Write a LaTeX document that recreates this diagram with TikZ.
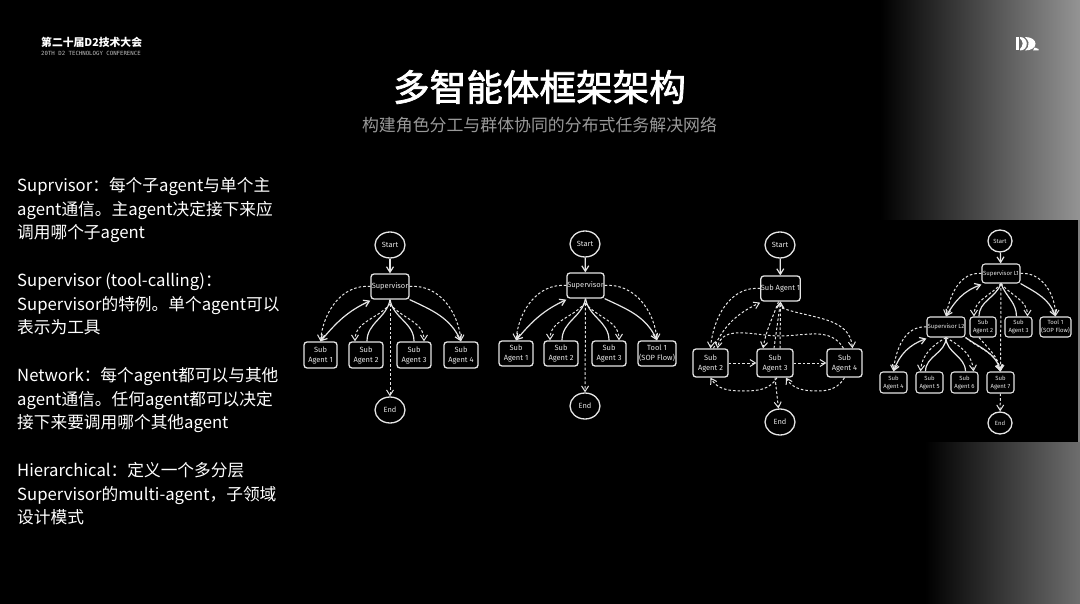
\documentclass[tikz,border=0pt]{standalone}
\usepackage{fontspec}
\usetikzlibrary{arrows.meta,shapes.geometric}
\setmainfont{Noto Sans CJK SC}
\newfontfamily\sketchfont{Fira Sans}
\newfontfamily\monofont{DejaVu Sans Mono}
\newfontfamily\titlefont[FakeBold=2]{Noto Sans CJK SC}
\definecolor{ink}{gray}{0.9}
\definecolor{subtitlegray}{gray}{0.6}
\tikzset{
  x=1pt,y=-1pt,
  agentbox/.style={draw=ink,line width=1.3pt,rounded corners=3pt,fill=black,text=ink,align=center,inner sep=0pt,font=\sketchfont\fontsize{7.5}{10}\selectfont},
  smallbox/.style={agentbox,line width=1.1pt,font=\sketchfont\fontsize{6}{8}\selectfont},
  term/.style={draw=ink,line width=1.3pt,ellipse,fill=black,text=ink,inner sep=0pt,font=\sketchfont\fontsize{7.5}{10}\selectfont},
  smallterm/.style={term,font=\sketchfont\fontsize{6}{8}\selectfont},
  solidflow/.style={draw=ink,line width=1.2pt,-{Straight Barb[length=5.5pt,width=7pt]}},
  bothflow/.style={draw=ink,line width=1.2pt,{Straight Barb[length=5.5pt,width=7pt]}-{Straight Barb[length=5.5pt,width=7pt]}},
  dashflow/.style={draw=ink,line width=1pt,dash pattern=on 2.6pt off 2pt,-{Straight Barb[length=5.5pt,width=7pt]}},
  plainflow/.style={draw=ink,line width=1.2pt},
}
% box: name, x1, y1, x2, y2, style, text
\newcommand{\abox}[7]{\node[#6,minimum width=#4pt-#2pt,minimum height=#5pt-#3pt] (#1) at ({(#2+#4)/2},{(#3+#5)/2}) {#7};}
\newcommand{\ovalnode}[6]{\node[#5,minimum width=#3pt*2,minimum height=#4pt*2] (#1) at #2 {#6};}
\begin{document}
\begin{tikzpicture}
\useasboundingbox (0,0) rectangle (1080,604);
\fill[black] (0,0) rectangle (1080,604);
\shade[left color=black,right color={rgb,1:red,0.58;green,0.58;blue,0.58}] (880,0) rectangle (1080,221);
\shade[left color=black,right color={rgb,1:red,0.43;green,0.43;blue,0.43}] (925,441) rectangle (1080,604);
\fill[black!50!white] (1077,220) rectangle (1080,442);
\fill[black] (293,220) rectangle (1077.5,441.5);

% header
\node[anchor=west,text=white,inner sep=0pt,font=\bfseries\fontsize{10.8}{12}\selectfont] (conf) at (41,42) {第二十届D2技术大会};
\node[anchor=west,text=white!75!black,inner sep=0pt,font=\monofont\fontsize{5.7}{6}\selectfont] (confen) at (41,53) {20TH D2 TECHNOLOGY CONFERENCE};
\fill[white] (1016,37) rectangle (1019,50.5);
\fill[white] (1020,37) .. controls (1029,37) and (1029,50.5) .. (1020,50.5) -- (1020,49) .. controls (1023.5,46) and (1023.5,41) .. (1020,38.5) -- cycle;
\fill[white] (1025,37) .. controls (1039,37) and (1039,50.5) .. (1025,50.5) -- (1028,47) .. controls (1029.5,44) and (1029,41) .. (1025,37) -- cycle;
\fill[white] (1034.5,47.5) -- (1038.5,49) -- (1038.5,50.5) -- (1033,50.5) -- cycle;

\node[text=white,inner sep=0pt,font=\titlefont\fontsize{36.6}{40}\selectfont] (title) at (539.5,87) {多智能体框架架构};
\node[text=subtitlegray,inner sep=0pt,font=\fontsize{16.9}{20}\selectfont] (subtitle) at (539.5,125) {构建角色分工与群体协同的分布式任务解决网络};

\node[anchor=north west,text=white,inner sep=0pt,align=left,font=\fontsize{16.7}{23.75}\selectfont] (desc) at (17,177) {%
Suprvisor：每个子agent与单个主\\
agent通信。主agent决定接下来应\\
调用哪个子agent\\[23.75pt]
Supervisor (tool-calling)：\\
Supervisor的特例。单个agent可以\\
表示为工具\\[23.75pt]
Network：每个agent都可以与其他\\
agent通信。任何agent都可以决定\\
接下来要调用哪个其他agent\\[23.75pt]
Hierarchical：定义一个多分层\\
Supervisor的multi-agent，子领域\\
设计模式};

% ---------- panel 1
\ovalnode{as}{(390,245)}{15}{13}{term}{Start}
\abox{asup}{371}{274}{409}{299}{agentbox}{Supervisor}
\abox{a1}{304}{342}{337}{368}{agentbox}{Sub\\Agent 1}
\abox{a2}{349}{342}{383}{368}{agentbox}{Sub\\Agent 2}
\abox{a3}{397}{342}{431}{368}{agentbox}{Sub\\Agent 3}
\abox{a4}{444}{342}{478}{368}{agentbox}{Sub\\Agent 4}
\ovalnode{ae}{(390,410)}{15}{13}{term}{End}
\coordinate (ahub) at (390,304);
\draw[solidflow] (as) -- (asup);
\draw[dashflow] (asup.west) to[out=175,in=85] (a1.north);
\draw[bothflow] (a1.north) to[out=50,in=205] ([yshift=-1pt]asup.south west);
\draw[plainflow] ([xshift=1pt]a2.north) to[out=90,in=-100] (asup.south);
\draw[plainflow] (a3.north) to[out=90,in=-80] (asup.south);
\draw[solidflow] (asup.south east) to[out=-25,in=115] (a4.north);
\draw[dashflow] (asup.east) to[out=5,in=95] (a4.north);
\draw[dashflow] (ahub) to[out=-130,in=90] ([xshift=-11pt]a2.north);
\draw[dashflow] (ahub) to[out=-50,in=90] ([xshift=10pt]a3.north);
\draw[dashflow] (asup.south) -- (ae);

% ---------- panel 2
\ovalnode{bs}{(585,244)}{15}{13}{term}{Start}
\abox{bsup}{567}{273}{604}{298}{agentbox}{Supervisor}
\abox{b1}{499}{341}{533}{366}{agentbox}{Sub\\Agent 1}
\abox{b2}{544}{341}{578}{366}{agentbox}{Sub\\Agent 2}
\abox{b3}{592}{341}{626}{366}{agentbox}{Sub\\Agent 3}
\abox{b4}{638}{341}{676}{366}{agentbox}{Tool 1\\(SOP Flow)}
\ovalnode{be}{(585,406)}{15}{13}{term}{End}
\coordinate (bhub) at (585,303);
\draw[solidflow] (bs) -- (bsup);
\draw[dashflow] (bsup.west) to[out=175,in=85] (b1.north);
\draw[bothflow] (b1.north) to[out=50,in=205] ([yshift=-1pt]bsup.south west);
\draw[plainflow] ([xshift=1pt]b2.north) to[out=90,in=-100] (bsup.south);
\draw[plainflow] (b3.north) to[out=90,in=-80] (bsup.south);
\draw[solidflow] (bsup.south east) to[out=-25,in=115] (b4.north);
\draw[dashflow] (bsup.east) to[out=5,in=95] (b4.north);
\draw[dashflow] (bhub) to[out=-130,in=90] ([xshift=-11pt]b2.north);
\draw[dashflow] (bhub) to[out=-50,in=90] ([xshift=10pt]b3.north);
\draw[dashflow] (bsup.south) -- (be);

% ---------- panel 3
\ovalnode{cs}{(780,245)}{15}{13}{term}{Start}
\abox{csup}{761}{276}{800}{301}{agentbox}{Sub Agent 1}
\abox{c2}{693}{349}{728}{377}{agentbox}{Sub\\Agent 2}
\abox{c3}{757}{349}{793}{377}{agentbox}{Sub\\Agent 3}
\abox{c4}{827}{349}{862}{377}{agentbox}{Sub\\Agent 4}
\ovalnode{ce}{(780,422)}{15}{13}{term}{End}
\coordinate (chub) at (782,308);
\coordinate (ctop) at (780,336);
\coordinate (cbot) at (743,391);
\coordinate (cbotr) at (818,391);
\draw[solidflow] (cs) -- (csup);
\draw[dashflow] (csup.west) to[out=175,in=85] (c2.north);
\draw[dashflow] ([xshift=3pt]c2.north) to[out=65,in=205] ([yshift=-1pt]csup.south west);
\draw[dashflow] ([xshift=-2pt]csup.south) to[out=-110,in=80] ([xshift=-12pt]c3.north);
\draw[dashflow] ([xshift=-1pt]c3.north) -- (csup.south);
\draw[dashflow] ([xshift=5pt]c3.north) -- (csup.south);
\draw[dashflow] (chub) to[out=-20,in=95] ([xshift=8pt]c4.north);
\draw[dashflow] ([xshift=-1pt]c4.north) to[out=120,in=0] (ctop) to[out=180,in=80] ([xshift=7pt]c2.north);
\draw[dashflow] (c2.east) -- (c3.west);
\draw[dashflow] (c3.east) -- (c4.west);
\draw[dashflow] ([xshift=2pt]c3.south) to[out=-120,in=0] (cbot) to[out=180,in=-60] (c2.south);
\draw[dashflow] (c4.south) to[out=-120,in=0] (cbotr) to[out=180,in=-60] ([xshift=11pt]c3.south);
\draw[dashflow] (c3.south) -- (ce);

% ---------- panel 4
\ovalnode{ds}{(1000,241)}{12}{11}{smallterm}{Start}
\abox{dl1}{982}{264}{1020}{283}{smallbox}{Supervisor L1}
\abox{dl2}{927}{317}{965}{337}{smallbox}{Supervisor L2}
\abox{d2}{970}{317}{996}{337}{smallbox}{Sub\\Agent 2}
\abox{d3}{1005}{317}{1032}{337}{smallbox}{Sub\\Agent 3}
\abox{dt}{1040}{317}{1071}{337}{smallbox}{Tool 1\\(SOP Flow)}
\abox{d4}{880}{372}{907}{393}{smallbox}{Sub\\Agent 4}
\abox{d5}{916}{372}{943}{393}{smallbox}{Sub\\Agent 5}
\abox{d6}{951}{372}{978}{393}{smallbox}{Sub\\Agent 6}
\abox{d7}{987}{372}{1014}{393}{smallbox}{Sub\\Agent 7}
\ovalnode{de}{(1000,423)}{12}{11}{smallterm}{End}
\draw[solidflow] (ds) -- (dl1);
\draw[dashflow] (dl1.west) to[out=175,in=80] (dl2.north);
\draw[bothflow] (dl2.north) to[out=60,in=200] ([yshift=-1pt]dl1.south west);
\draw[plainflow] ([xshift=-4pt]d2.north) to[out=90,in=-110] (dl1.south);
\draw[plainflow] ([xshift=-2pt]d3.north) to[out=90,in=-70] (dl1.south);
\draw[solidflow] (dl1.south east) to[out=-30,in=110] (dt.north);
\draw[dashflow] (dl1.east) to[out=5,in=90] (dt.north);
\draw[dashflow] (dl1.south) to[out=-130,in=90] ([xshift=-9pt]d2.north);
\draw[dashflow] (dl1.south) to[out=-50,in=90] ([xshift=9pt]d3.north);
\draw[dashflow] (dl1.south) -- (d7.north);
\draw[dashflow] ([xshift=-4pt]d2.south) to[out=-50,in=100] (d7.north);
\draw[dashflow] (dl2.west) to[out=175,in=85] (d4.north);
\draw[bothflow] (d4.north) to[out=70,in=200] ([yshift=-1pt]dl2.south west);
\draw[plainflow] ([xshift=-4pt]d5.north) to[out=90,in=-90] (dl2.south);
\draw[plainflow] ([xshift=1pt]d6.north) to[out=90,in=-90] (dl2.south);
\draw[dashflow] (dl2.south) to[out=-150,in=85] ([xshift=-9pt]d5.north);
\draw[dashflow] (dl2.south) to[out=-30,in=95] ([xshift=9pt]d6.north);
\draw[solidflow] (dl2.south east) to[out=-35,in=105] (d7.north);
\draw[dashflow] (dl2.south east) to[out=-40,in=100] (d7.north);
\draw[dashflow] (d7) -- (de);
\end{tikzpicture}
\end{document}
